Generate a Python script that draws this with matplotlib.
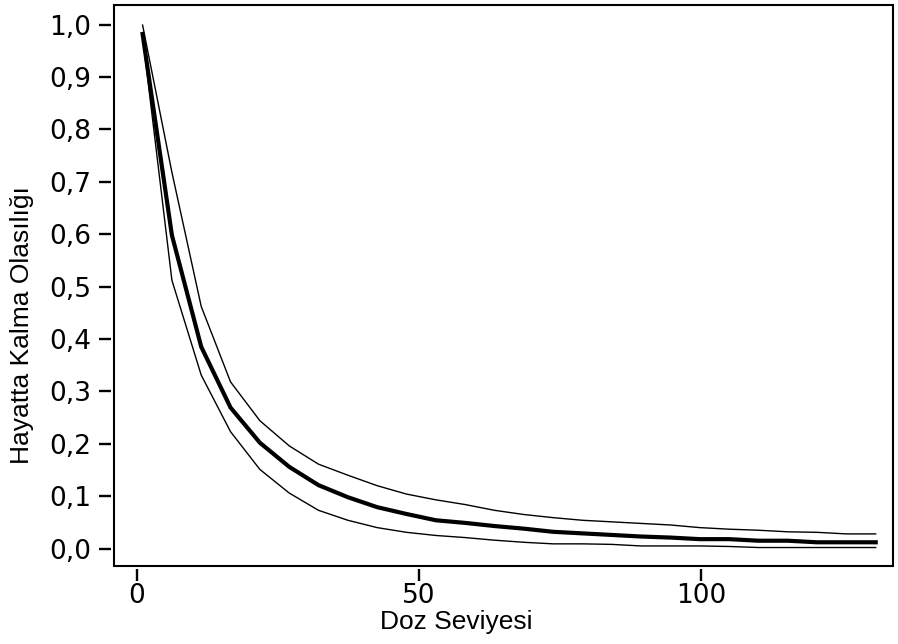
import numpy as np
import matplotlib
matplotlib.use('Agg')
import matplotlib.pyplot as plt
from matplotlib.patches import Rectangle
from matplotlib.ticker import FuncFormatter

# Données
doz = [1, 6.2, 11.4, 16.6, 21.8, 27, 32.2, 37.4, 42.6, 47.8, 53, 58.2, 63.4,
       68.6, 73.8, 79, 84.2, 89.4, 94.6, 99.8, 105, 110.2, 115.4, 120.6, 125.8, 131]
olasilik = [0.982, 0.598, 0.385, 0.269, 0.202, 0.156, 0.121, 0.098, 0.079, 0.066,
            0.054, 0.049, 0.043, 0.038, 0.032, 0.029, 0.026, 0.023, 0.021, 0.018,
            0.018, 0.015, 0.015, 0.012, 0.012, 0.012]
ust_sinir = [0.999, 0.718, 0.462, 0.318, 0.244, 0.196, 0.161, 0.140, 0.120, 0.104,
             0.093, 0.084, 0.073, 0.065, 0.059, 0.054, 0.051, 0.048, 0.045, 0.040,
             0.037, 0.035, 0.032, 0.031, 0.028, 0.028]
alt_sinir = [0.978, 0.512, 0.331, 0.223, 0.151, 0.106, 0.073, 0.054, 0.040, 0.031,
             0.025, 0.021, 0.016, 0.012, 0.009, 0.009, 0.008, 0.005, 0.005, 0.005,
             0.004, 0.002, 0.002, 0.002, 0.002, 0.002]

x_ticks = [0, 50, 100]
y_ticks = np.round(np.arange(0, 1.01, 0.1), 1)

fig = plt.figure(figsize=(8.98, 6.44), dpi=100)
ax = fig.add_axes([0.127, 0.121, 0.867, 0.871])

ax.plot(doz, ust_sinir, color='black', lw=1.0)
ax.plot(doz, alt_sinir, color='black', lw=1.0)
ax.plot(doz, olasilik, color='black', lw=3.0)

ax.set_xlim(-4.06, 134)
ax.set_ylim(-0.0334, 1.037)

# cadre + graduations détachées du cadre
for s in ax.spines.values():
    s.set_visible(False)
for s in ['left', 'bottom']:
    ax.spines[s].set_position(('outward', 2))
ax.add_patch(Rectangle((0, 0), 1, 1, transform=ax.transAxes, fill=False,
                       lw=1.5, ec='black', clip_on=False, zorder=5))

ax.set_xticks(x_ticks)
ax.set_yticks(y_ticks)
ax.yaxis.set_major_formatter(FuncFormatter(lambda v, p: f"{v:.1f}".replace('.', ',')))
ax.tick_params(direction='out', length=8.5, width=1.7, labelsize=19, pad=6,
               top=False, right=False)
ax.tick_params(axis='x', pad=2)

ax.set_xlabel('Doz Seviyesi', fontsize=19, family='Liberation Sans')
ax.set_ylabel('Hayatta Kalma Olasılığı', fontsize=19, family='Liberation Sans')
ax.xaxis.set_label_coords(0.439, -0.078)
ax.yaxis.set_label_coords(-0.103, 0.43)

plt.savefig('out.png', dpi=100)
